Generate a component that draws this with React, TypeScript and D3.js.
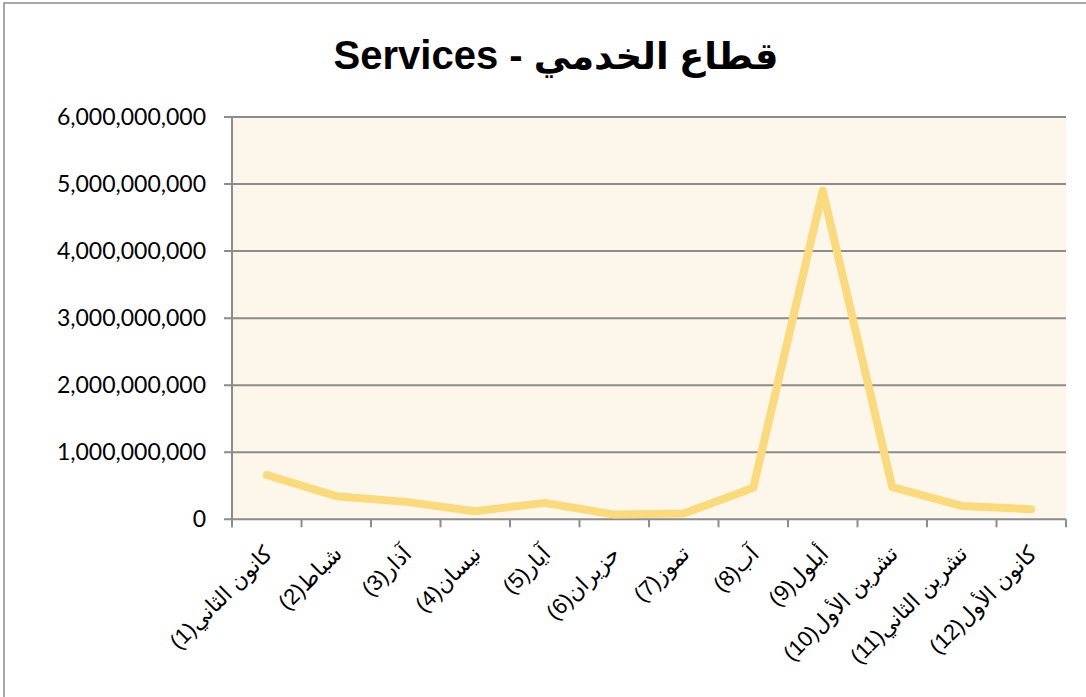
import * as d3 from "d3";
import { useEffect, useRef } from "react";

const months = [
  "كانون الثاني(1)",
  "شباط(2)",
  "آذار(3)",
  "نيسان(4)",
  "آيار(5)",
  "حزيران(6)",
  "تموز(7)",
  "آب(8)",
  "أيلول(9)",
  "تشرين الأول(10)",
  "تشرين الثاني(11)",
  "كانون الأول(12)",
];

const values = [
  660000000, 345000000, 260000000, 120000000, 245000000, 70000000,
  85000000, 470000000, 4900000000, 480000000, 200000000, 150000000,
];

const yTicks = [0, 1e9, 2e9, 3e9, 4e9, 5e9, 6e9];

const titleArabic = "قطاع الخدمي";
const titleLatin = " - Services";

const width = 1086;
const height = 697;

//chart component
const ServicesChart = () => {
  const svgRef = useRef<SVGSVGElement | null>(null);

  useEffect(() => {
    const margin = { top: 117, right: 20, bottom: 177, left: 232 };
    const svg = d3.select(svgRef.current);
    svg.selectAll("*").remove();

    svg.attr("width", width).attr("height", height);

    // outer frame
    svg
      .append("rect")
      .attr("x", 4)
      .attr("y", 3)
      .attr("width", width + 10)
      .attr("height", height + 10)
      .attr("fill", "#ffffff")
      .attr("stroke", "#8a8a8a")
      .attr("stroke-width", 1.5);

    const xScale = d3
      .scaleBand()
      .domain(months)
      .range([margin.left, width - margin.right]);

    const yScale = d3
      .scaleLinear()
      .domain([0, 6e9])
      .range([height - margin.bottom - 0.7, margin.top]);

    // plot background
    svg
      .append("rect")
      .attr("x", margin.left)
      .attr("y", margin.top)
      .attr("width", width - margin.right - margin.left)
      .attr("height", yScale(0) - margin.top)
      .attr("fill", "#fdf6ea");

    // gridlines + y ticks
    svg
      .selectAll(".grid")
      .data(yTicks)
      .enter()
      .append("line")
      .attr("class", "grid")
      .attr("x1", margin.left - 8)
      .attr("x2", width - margin.right)
      .attr("y1", (d) => yScale(d))
      .attr("y2", (d) => yScale(d))
      .attr("stroke", "#8c8c8c")
      .attr("stroke-width", 2);

    // y axis line
    svg
      .append("line")
      .attr("x1", margin.left)
      .attr("x2", margin.left)
      .attr("y1", margin.top)
      .attr("y2", yScale(0) + 8)
      .attr("stroke", "#8c8c8c")
      .attr("stroke-width", 2);

    // x ticks at category boundaries
    const boundaries = months.map((m) => xScale(m) as number);
    boundaries.push(width - margin.right);
    svg
      .selectAll(".xtick")
      .data(boundaries)
      .enter()
      .append("line")
      .attr("class", "xtick")
      .attr("x1", (d) => d)
      .attr("x2", (d) => d)
      .attr("y1", yScale(0))
      .attr("y2", yScale(0) + 8)
      .attr("stroke", "#8c8c8c")
      .attr("stroke-width", 2);

    const fmt = d3.format(",");
    svg
      .selectAll(".ylabel")
      .data(yTicks)
      .enter()
      .append("text")
      .attr("class", "ylabel")
      .attr("x", 206)
      .attr("y", (d) => yScale(d) + 8)
      .attr("text-anchor", "end")
      .attr("fill", "#000")
      .attr("font-size", "23px")
      .attr("font-family", "Lato, 'Open Sans', sans-serif")
      .text((d) => fmt(d));

    // line
    const line = d3
      .line<number>()
      .x((_, i) => (xScale(months[i]) as number) + xScale.bandwidth() / 2)
      .y((d) => yScale(d));

    svg
      .append("path")
      .datum(values)
      .attr("d", line)
      .attr("fill", "none")
      .attr("stroke", "#fbda7b")
      .attr("stroke-width", 8)
      .attr("stroke-linecap", "round")
      .attr("stroke-linejoin", "round");

    // x labels
    svg
      .selectAll(".xlabel")
      .data(months)
      .enter()
      .append("text")
      .attr("class", "xlabel")
      .attr(
        "transform",
        (d) =>
          `translate(${(xScale(d) as number) + xScale.bandwidth() / 2 + 7}, ${
            yScale(0) + 36
          }) rotate(-45)`
      )
      .attr("direction", "rtl")
      .attr("text-anchor", "start")
      .attr("fill", "#000")
      .attr("font-size", "22px")
      .attr("font-family", "'Liberation Sans', 'DejaVu Sans', sans-serif")
      .text((d) => d);

    // title
    const t = svg
      .append("text")
      .attr("x", 556)
      .attr("y", 69)
      .attr("direction", "rtl")
      .attr("text-anchor", "middle")
      .attr("fill", "#000")
      .attr("font-weight", "bold")
      .attr("font-family", "'Liberation Sans', 'DejaVu Sans', sans-serif");
    t.append("tspan").attr("font-size", "37px").text(titleArabic);
    t.append("tspan").attr("font-size", "40px").text(titleLatin);
  }, []);

  return (
    <svg
      ref={svgRef}
      style={{ position: "absolute", left: 0, top: 0, display: "block" }}
    ></svg>
  );
};

export default function App() {
  return <ServicesChart />;
}
